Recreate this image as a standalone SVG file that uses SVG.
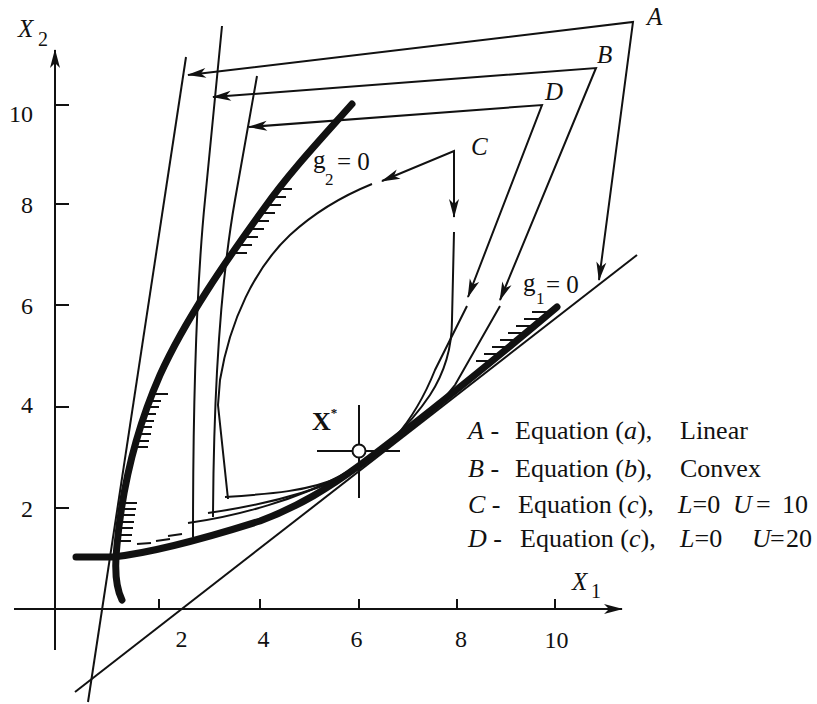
<svg xmlns="http://www.w3.org/2000/svg" width="817" height="704" viewBox="0 0 817 704">
<defs>
<style>
.thin{fill:none;stroke:#111;stroke-width:2}
.thick{fill:none;stroke:#111;stroke-width:7;stroke-linecap:round;stroke-linejoin:round}
.h{stroke:#111;stroke-width:2}
.arr{fill:none;stroke:#111;stroke-width:2;marker-end:url(#ah)}
.arr2{fill:none;stroke:#111;stroke-width:2;marker-start:url(#ah);marker-end:url(#ah)}
text{font-family:"Liberation Serif","Times New Roman",serif;fill:#111}
.tick{font-size:24px}
.lab{font-size:25px}
.leg{font-size:26px}
.it{font-style:italic}
</style>
<marker id="ah" viewBox="-20 -6 22 12" refX="0" refY="0" markerWidth="22" markerHeight="12" markerUnits="userSpaceOnUse" orient="auto-start-reverse">
<path d="M1,0 L-18,-5 L-13,0 L-18,5 Z" fill="#111"/>
</marker>
</defs>
<rect width="817" height="704" fill="#fff"/>

<g id="axes">
<path class="arr" d="M55,650 L55,50"/>
<path class="arr" d="M14,609 L622,609"/>
<g class="h">
<line x1="55" y1="105" x2="69" y2="105"/>
<line x1="55" y1="204" x2="69" y2="204"/>
<line x1="55" y1="305" x2="69" y2="305"/>
<line x1="55" y1="407" x2="69" y2="407"/>
<line x1="55" y1="508" x2="69" y2="508"/>
<line x1="159" y1="609" x2="159" y2="599"/>
<line x1="260" y1="609" x2="260" y2="599"/>
<line x1="359" y1="609" x2="359" y2="599"/>
<line x1="457" y1="609" x2="457" y2="599"/>
<line x1="555" y1="609" x2="555" y2="599"/>
</g>
<g class="tick" text-anchor="end">
<text x="33" y="122">10</text>
<text x="33" y="213">8</text>
<text x="33" y="314">6</text>
<text x="33" y="413">4</text>
<text x="33" y="517">2</text>
</g>
<g class="tick" text-anchor="middle">
<text x="181.5" y="647">2</text>
<text x="263.5" y="647">4</text>
<text x="356.5" y="647">6</text>
<text x="461" y="647">8</text>
<text x="556.5" y="648">10</text>
</g>
<text class="lab it" x="18" y="37">X</text>
<text x="38" y="46" font-size="20">2</text>
<text class="lab it" x="572" y="590">X</text>
<text x="591" y="598" font-size="20">1</text>
</g>

<g id="g2">
<path class="thick" d="M352,104 C320,140 290,172 265,207 C225,262 185,320 160,375 C135,432 122,490 117,545 C114,572 116,588 122,600"/>
<g class="h">
<line x1="278" y1="189" x2="292" y2="189"/>
<line x1="272" y1="197" x2="286" y2="197"/>
<line x1="266" y1="205" x2="281" y2="205"/>
<line x1="261" y1="213" x2="275" y2="213"/>
<line x1="255" y1="221" x2="269" y2="221"/>
<line x1="250" y1="229" x2="264" y2="229"/>
<line x1="244" y1="237" x2="258" y2="237"/>
<line x1="238" y1="245" x2="252" y2="245"/>
<line x1="233" y1="253" x2="247" y2="253"/>
<line x1="151" y1="394" x2="168" y2="394"/>
<line x1="148" y1="401" x2="161" y2="401"/>
<line x1="145" y1="407" x2="159" y2="407"/>
<line x1="142" y1="414" x2="156" y2="414"/>
<line x1="140" y1="421" x2="154" y2="421"/>
<line x1="138" y1="427" x2="152" y2="427"/>
<line x1="137" y1="434" x2="151" y2="434"/>
<line x1="135" y1="441" x2="149" y2="441"/>
<line x1="134" y1="447" x2="148" y2="447"/>
<line x1="123" y1="503" x2="137" y2="503"/>
<line x1="122" y1="509" x2="136" y2="509"/>
<line x1="121" y1="515" x2="135" y2="515"/>
<line x1="120" y1="522" x2="134" y2="522"/>
<line x1="119" y1="528" x2="133" y2="528"/>
<line x1="118" y1="535" x2="132" y2="535"/>
<line x1="117" y1="541" x2="131" y2="541"/>
</g>
<text class="lab" x="313" y="168">g</text>
<text x="325" y="185" font-size="17">2</text>
<text class="lab" x="337" y="170">= 0</text>
</g>

<g id="g1">
<path class="thick" d="M76,557 L113,557 C150,553 200,540 260,521 C300,506 330,487 360,465 C420,420 500,355 557,307"/>
<g class="h">
<line x1="137" y1="544" x2="151" y2="543"/>
<line x1="156" y1="541" x2="170" y2="539"/>
<line x1="168" y1="536" x2="182" y2="534"/>
<line x1="532" y1="312" x2="547" y2="312"/>
<line x1="524" y1="319" x2="540" y2="319"/>
<line x1="516" y1="326" x2="531" y2="326"/>
<line x1="508" y1="333" x2="523" y2="333"/>
<line x1="500" y1="340" x2="515" y2="340"/>
<line x1="492" y1="347" x2="507" y2="347"/>
<line x1="484" y1="354" x2="499" y2="354"/>
<line x1="476" y1="361" x2="490" y2="361"/>
</g>
<text class="lab" x="523" y="291">g</text>
<text x="536" y="304" font-size="17">1</text>
<text class="lab" x="546" y="293">= 0</text>
</g>

<g id="approxA">
<line class="thin" x1="88" y1="702" x2="186" y2="57"/>
<line class="thin" x1="75" y1="692" x2="637" y2="255"/>
</g>

<g id="approxB">
<path class="thin" d="M222,26 L205,200 Q193,320 193,537"/>
<path class="thin" d="M188,523 C240,516 300,498 340,476 C385,452 430,418 455,385 L500,306"/>
</g>

<g id="approxD">
<path class="thin" d="M257,76 L235,200 Q214,320 213,517"/>
<path class="thin" d="M208,513 C250,507 300,496 340,479 C385,458 415,420 435,370 L467,306"/>
</g>

<g id="approxC">
<path class="thin" d="M372,184 C345,195 315,212 290,235 C255,268 230,320 220,380 L218,405 L228,499"/>
<path class="thin" d="M225,497 C270,494 310,491 340,477 C375,460 410,425 430,395 C445,372 452,345 452,320 L454,232"/>
</g>

<g id="xstar">
<line class="h" x1="317" y1="451" x2="400" y2="451"/>
<line class="h" x1="359" y1="405" x2="359" y2="498"/>
<circle cx="359" cy="451" r="6.5" fill="#fff" stroke="#111" stroke-width="2"/>
<text x="312" y="430" font-size="26" font-weight="bold">X<tspan font-size="13" dy="-13">*</tspan></text>
</g>

<g id="connectors">
<path class="arr2" d="M188,75 L633,22 L599,280"/>
<path class="arr2" d="M213,97 L596,68 L500,300"/>
<path class="arr2" d="M249,127 L542,105 L468,297"/>
<path class="arr2" d="M382,181 L454,151 L454,217"/>
</g>

<g id="tags">
<text class="lab it" x="647" y="25">A</text>
<text class="lab it" x="597" y="63">B</text>
<text class="lab it" x="545" y="100">D</text>
<text class="lab it" x="471" y="155">C</text>
</g>

<g id="legend" class="leg">
<text y="439"><tspan x="468" class="it">A</tspan> - <tspan x="515">Equation (</tspan><tspan class="it">a</tspan>),<tspan x="680">Linear</tspan></text>
<text y="477"><tspan x="468" class="it">B</tspan> - <tspan x="515">Equation (</tspan><tspan class="it">b</tspan>),<tspan x="680">Convex</tspan></text>
<text y="513"><tspan x="468" class="it">C</tspan> - <tspan x="518">Equation (</tspan><tspan class="it">c</tspan>),<tspan x="678" class="it">L</tspan>=0<tspan x="733" class="it">U</tspan><tspan x="756">=</tspan><tspan x="782">10</tspan></text>
<text y="547"><tspan x="468" class="it">D</tspan> - <tspan x="520">Equation (</tspan><tspan class="it">c</tspan>),<tspan x="680" class="it">L</tspan>=0<tspan x="752" class="it">U</tspan><tspan x="770">=</tspan><tspan x="786">20</tspan></text>
</g>
</svg>
